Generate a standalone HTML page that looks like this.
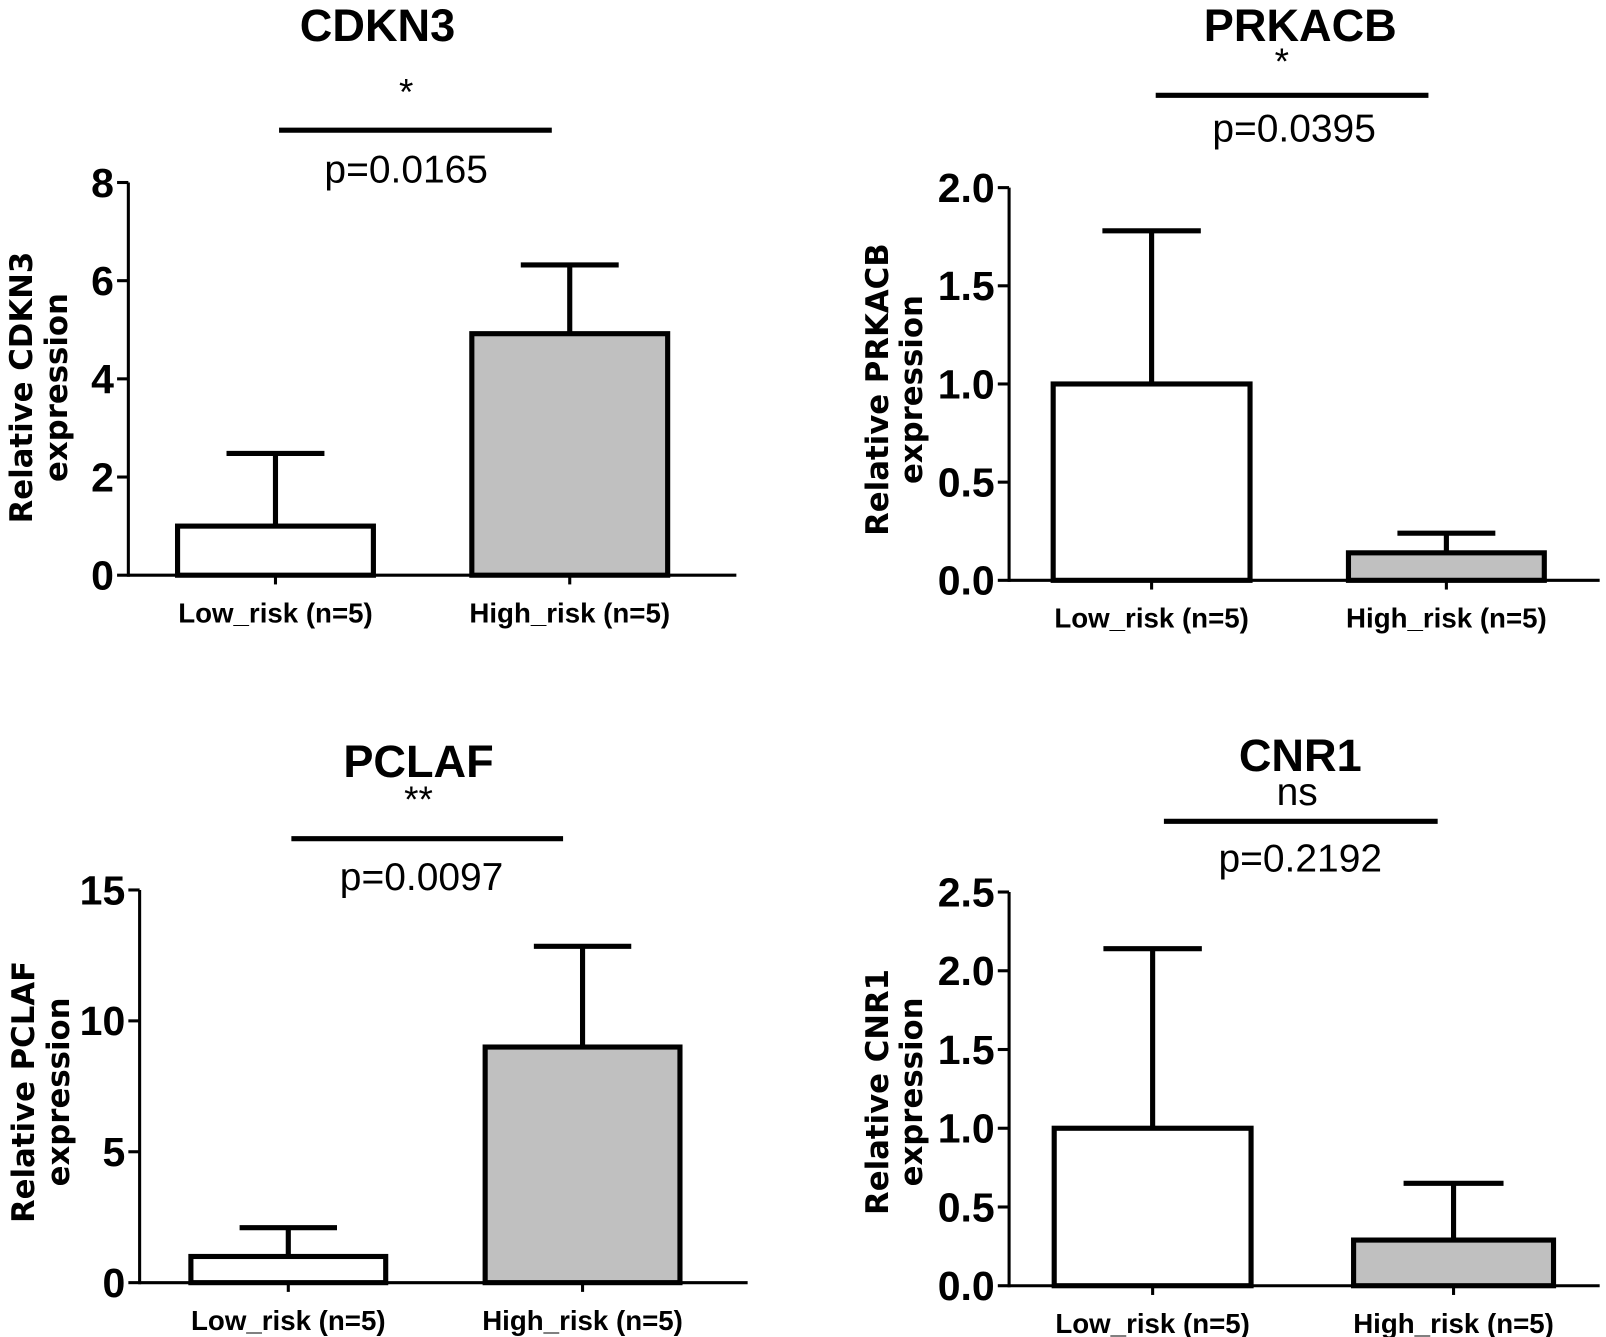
<!DOCTYPE html>
<html><head><meta charset="utf-8">
<style>
html,body{margin:0;padding:0;background:#fff;}
svg{display:block;font-family:"Liberation Sans",Arial,sans-serif;}
</style></head>
<body>
<svg id="fig" width="1606" height="1337" viewBox="0 0 1566 1304" xmlns="http://www.w3.org/2000/svg"></svg>
<script>
// data
const genes = ["CDKN3","PRKACB","PCLAF","CNR1"];
const categories = ["Low_risk (n=5)","High_risk (n=5)"];
const meanCDKN3 = [1.0, 4.92];
const errCDKN3 = [2.48, 6.32];
const meanPRKACB = [1.0, 0.14];
const errPRKACB = [1.78, 0.24];
const meanPCLAF = [1.0, 9.0];
const errPCLAF = [2.1, 12.85];
const meanCNR1 = [1.0, 0.29];
const errCNR1 = [2.14, 0.65];
const ticksCDKN3 = ["0","2","4","6","8"];
const ticksPRKACB = ["0.0","0.5","1.0","1.5","2.0"];
const ticksPCLAF = ["0","5","10","15"];
const ticksCNR1 = ["0.0","0.5","1.0","1.5","2.0","2.5"];
const stars = ["*","*","**","ns"];
const pvalues = ["p=0.0165","p=0.0395","p=0.0097","p=0.2192"];

const NS="http://www.w3.org/2000/svg";
const svg=document.getElementById('fig');
function mk(tag,attrs,parent,text){const e=document.createElementNS(NS,tag);for(const k in attrs)e.setAttribute(k,attrs[k]);if(text!==undefined)e.textContent=text;(parent||svg).appendChild(e);return e;}

const layouts=[
 {ax:125,top:178,zero:561,right:718,bars:[[173,364],[460,651]],title:[368,40],star:[396,102],line:[272,538,127],p:[396,178],ylab:[19,53,378]},
 {ax:984,top:183,zero:566,right:1560,bars:[[1027,1219],[1315,1506]],title:[1268,40],star:[1250,72],line:[1127,1393,93],p:[1262,138],ylab:[854,887,380]},
 {ax:136,top:868,zero:1251,right:729,bars:[[186,376],[473,663]],title:[408,758],star:[408,792],line:[284,549,818],p:[411,868],ylab:[21,55,1065]},
 {ax:984,top:870,zero:1254,right:1560,bars:[[1028,1220],[1320,1515]],title:[1268,752],star:[1265,785],line:[1135,1402,801],p:[1268,850],ylab:[854,887,1065]}
];
const means=[meanCDKN3,meanPRKACB,meanPCLAF,meanCNR1];
const errs=[errCDKN3,errPRKACB,errPCLAF,errCNR1];
const ticks=[ticksCDKN3,ticksPRKACB,ticksPCLAF,ticksCNR1];
const fills=["#ffffff","#c0c0c0"];

genes.forEach((g,i)=>{
  const L=layouts[i];
  const tk=ticks[i];
  const ymax=parseFloat(tk[tk.length-1]);
  const y=v=>L.zero-(v/ymax)*(L.zero-L.top);
  const grp=mk('g',{});
  
  
  const t=mk('text',{x:L.title[0],y:L.title[1],'text-anchor':'middle','font-size':44,'font-weight':'bold'},grp,g);
  
  
  const s=mk('text',{x:L.star[0],y:L.star[1],'text-anchor':'middle','font-size':stars[i]==='ns'?38:36},grp,stars[i]);
  
  
  const sl=mk('line',{x1:L.line[0],x2:L.line[1],y1:L.line[2],y2:L.line[2],stroke:'#000','stroke-width':5},grp);
  
  
  const p=mk('text',{x:L.p[0],y:L.p[1],'text-anchor':'middle','font-size':38},grp,pvalues[i]);
  
  
  categories.forEach((c,j)=>{
    const [x0,x1]=L.bars[j];
    const cx=(x0+x1)/2;
    const hw=(x1-x0)/4;
    const el=mk('line',{x1:cx,x2:cx,y1:y(means[i][j]),y2:y(errs[i][j]),stroke:'#000','stroke-width':5},grp);
    
    
    const cap=mk('line',{x1:cx-hw,x2:cx+hw,y1:y(errs[i][j]),y2:y(errs[i][j]),stroke:'#000','stroke-width':5},grp);
    
    
    const r=mk('rect',{x:x0,y:y(means[i][j]),width:x1-x0,height:L.zero-y(means[i][j]),fill:fills[j],stroke:'#000','stroke-width':5},grp);
    
    
    const xt=mk('line',{x1:cx,x2:cx,y1:L.zero,y2:L.zero+9,stroke:'#000','stroke-width':3},grp);
    
    
    const xl=mk('text',{x:cx,y:L.zero+46,'text-anchor':'middle','font-size':27,'font-weight':'bold'},grp,c);
    
    
  });
  const ya=mk('line',{x1:L.ax,x2:L.ax,y1:L.top,y2:L.zero+1.5,stroke:'#000','stroke-width':3},grp);
  
  
  const xa=mk('line',{x1:L.ax,x2:L.right,y1:L.zero,y2:L.zero,stroke:'#000','stroke-width':3},grp);
  
  
  tk.forEach(lbl=>{
    const v=parseFloat(lbl);
    const tl=mk('line',{x1:L.ax-11,x2:L.ax,y1:y(v),y2:y(v),stroke:'#000','stroke-width':3},grp);
    
    
    const tt=mk('text',{x:L.ax-14,y:y(v)+14,'text-anchor':'end','font-size':40,'font-weight':'bold'},grp,lbl);
    
    
  });
  const yt=mk('text',{transform:`translate(${L.ylab[0]+12},${L.ylab[2]}) rotate(-90)`,'text-anchor':'middle','font-size':30,'font-weight':'bold','font-family':'"DejaVu Sans",sans-serif'},grp,'Relative '+g);
  
  
  const yt2=mk('text',{transform:`translate(${L.ylab[1]+12},${L.ylab[2]}) rotate(-90)`,'text-anchor':'middle','font-size':30,'font-weight':'bold','font-family':'"DejaVu Sans",sans-serif'},grp,'expression');
  
  
});
</script>
</body></html>
